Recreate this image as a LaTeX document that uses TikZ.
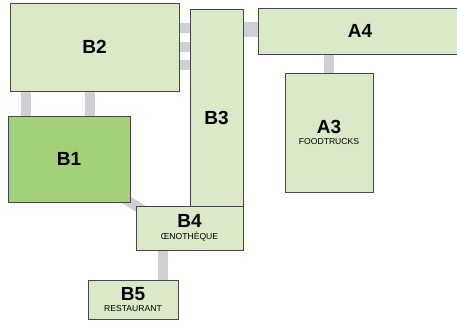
\documentclass[tikz,border=0pt]{standalone}
\usepackage{fontspec}
\setmainfont{Liberation Sans}
\usetikzlibrary{positioning,backgrounds}
\definecolor{halllight}{HTML}{DAEAC8}
\definecolor{halldark}{HTML}{A3D17A}
\definecolor{hallborder}{HTML}{474747}
\definecolor{passgrey}{HTML}{D0D0D4}
\newcommand{\hallsub}[1]{{\mdseries\fontsize{8.6}{8.6}\selectfont #1}}

\begin{document}
\begin{tikzpicture}[
  x=1pt, y=-1pt,
  hall/.style={draw=hallborder, line width=0.9pt, fill=halllight, inner sep=0pt,
    align=center, font=\bfseries\fontsize{19}{11.5}\selectfont},
  halltext/.style={inner sep=0pt, font=\bfseries\fontsize{19}{11.5}\selectfont},
  passage/.style={draw=passgrey, line width=10pt},
]
  \useasboundingbox (0,0) rectangle (457,325);

  % Halls
  \node[hall, minimum width=169pt, minimum height=88pt] (b2) at (94.5,47) {B2};
  \node[hall, minimum width=53pt, minimum height=197pt] (b3) at (216.5,107.5) {};
  \node[halltext] (b3t) at ([yshift=-10pt]b3.center) {B3};
  \node[hall, minimum width=204pt, minimum height=45.5pt] (a4) at (360,31.25) {A4};
  \node[hall, minimum width=88pt, minimum height=119pt] (a3) at (329,132.5)
    {A3\\\hallsub{FOODTRUCKS}};
  \node[hall, fill=halldark, minimum width=122pt, minimum height=86pt] (b1) at (69,159) {B1};
  \node[hall, minimum width=107pt, minimum height=44pt] (b4) at (189.5,228)
    {B4\\\hallsub{ŒNOTHÈQUE}};
  \node[hall, minimum width=90pt, minimum height=39pt] (b5) at (133,299.5)
    {B5\\\hallsub{RESTAURANT}};

  % Passages between halls
  \begin{scope}[on background layer]
    \draw[passage] ([xshift=16pt]b2.south west) -- ([xshift=16pt]b2.south west |- b1.north);
    \draw[passage] ([xshift=80pt]b2.south west) -- ([xshift=80pt]b2.south west |- b1.north);
    \foreach \dy in {25,44.5,62.5}
      \draw[passage] ([yshift=-\dy pt]b2.north east) -- ([yshift=-\dy pt]b2.north east -| b3.west);
    \draw[passage, line width=15pt] ([yshift=-21pt]b3.north east) -- ([yshift=-21pt]b3.north east -| a4.west);
    \draw[passage] ([xshift=44pt]a3.north west) -- ([xshift=44pt]a3.north west |- a4.south);
    \draw[passage, shorten <=-8pt, shorten >=-8pt] (b1.south east) -- (b4.north west);
    \draw[passage] ([xshift=75pt]b5.north west) -- ([xshift=75pt]b5.north west |- b4.south);
  \end{scope}
\end{tikzpicture}
\end{document}
